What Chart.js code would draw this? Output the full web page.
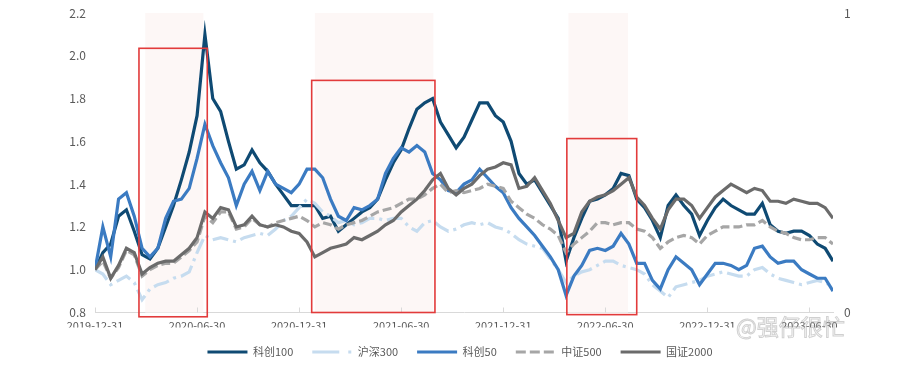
<!DOCTYPE html>
<html>
<head>
<meta charset="utf-8">
<script src="https://cdn.jsdelivr.net/npm/chart.js@4.4.1/dist/chart.umd.min.js"></script>
<style>
  html, body { margin: 0; padding: 0; background: #fff; }
  #wrap { width: 898px; height: 385px; }
</style>
</head>
<body>
<div id="wrap"><canvas id="chart" width="898" height="385"></canvas></div>
<script>
// ===== data (roughly bi-weekly samples, index 0 = 2019-12-31) =====
const tickIndex  = [0, 13, 26, 39, 52, 65, 78, 91];
const tickLabels = ["2019-12-31", "2020-06-30", "2020-12-31", "2021-06-30",
                    "2021-12-31", "2022-06-30", "2022-12-31", "2023-06-30"];

const seriesNames = ["科创100", "沪深300", "科创50", "中证500", "国证2000"];

const kc100 = [1.00,1.08,1.12,1.25,1.28,1.18,1.07,1.05,1.10,1.20,1.30,1.42,1.55,1.72,2.10,1.80,1.74,1.60,1.47,1.49,
               1.56,1.50,1.46,1.40,1.35,1.30,1.30,1.30,1.30,1.24,1.25,1.18,1.21,1.24,1.27,1.29,1.33,1.42,1.50,1.56,
               1.66,1.75,1.78,1.80,1.69,1.63,1.57,1.62,1.70,1.78,1.78,1.72,1.69,1.60,1.45,1.40,1.42,1.36,1.30,1.24,
               1.04,1.15,1.24,1.32,1.33,1.35,1.38,1.45,1.44,1.33,1.29,1.23,1.15,1.30,1.35,1.30,1.26,1.16,1.23,1.29,
               1.33,1.30,1.28,1.26,1.26,1.31,1.21,1.18,1.17,1.18,1.18,1.16,1.12,1.10,1.04];

const hs300 = [1.00,0.98,0.93,0.95,0.97,0.94,0.86,0.91,0.93,0.94,0.96,0.97,0.99,1.08,1.16,1.14,1.15,1.14,1.13,1.15,
               1.16,1.17,1.16,1.19,1.23,1.25,1.29,1.33,1.31,1.27,1.25,1.22,1.23,1.21,1.22,1.24,1.24,1.23,1.24,1.24,
               1.20,1.18,1.22,1.23,1.20,1.18,1.19,1.21,1.22,1.21,1.22,1.20,1.19,1.17,1.14,1.12,1.11,1.10,1.05,1.00,
               0.94,0.97,0.99,1.00,1.02,1.04,1.04,1.02,1.01,1.00,0.98,0.93,0.90,0.87,0.92,0.93,0.94,0.95,0.97,0.98,
               0.99,0.98,0.97,0.97,1.00,1.01,0.98,0.96,0.95,0.94,0.93,0.94,0.95,0.94,0.92];

const kc50 = [1.00,1.20,1.06,1.33,1.36,1.25,1.10,1.06,1.10,1.24,1.32,1.33,1.38,1.52,1.68,1.58,1.50,1.43,1.30,1.40,
              1.46,1.37,1.46,1.40,1.38,1.36,1.40,1.47,1.47,1.43,1.33,1.25,1.23,1.29,1.28,1.30,1.33,1.45,1.52,1.57,
              1.55,1.58,1.55,1.45,1.42,1.37,1.36,1.40,1.42,1.47,1.43,1.39,1.36,1.29,1.24,1.20,1.16,1.11,1.06,1.00,
              0.88,0.97,1.02,1.09,1.10,1.09,1.11,1.17,1.12,1.03,1.03,0.95,0.91,1.00,1.06,1.03,1.00,0.93,0.98,1.03,
              1.03,1.02,1.00,1.02,1.10,1.11,1.06,1.03,1.04,1.04,1.00,0.98,0.96,0.96,0.90];

const zz500 = [1.00,1.04,0.96,1.01,1.09,1.07,0.97,1.00,1.02,1.03,1.03,1.06,1.09,1.13,1.25,1.22,1.27,1.27,1.19,1.20,
               1.24,1.21,1.20,1.22,1.23,1.24,1.25,1.23,1.20,1.22,1.21,1.19,1.21,1.22,1.23,1.25,1.27,1.28,1.29,1.31,
               1.33,1.33,1.35,1.38,1.40,1.36,1.37,1.36,1.37,1.38,1.40,1.39,1.38,1.32,1.29,1.26,1.24,1.21,1.19,1.16,
               1.08,1.12,1.15,1.18,1.22,1.22,1.21,1.22,1.22,1.19,1.18,1.15,1.10,1.13,1.15,1.16,1.15,1.12,1.16,1.18,
               1.20,1.20,1.20,1.21,1.21,1.23,1.20,1.18,1.17,1.15,1.14,1.14,1.15,1.15,1.12];

const gz2000 = [1.00,1.06,0.96,1.02,1.10,1.08,0.98,1.01,1.03,1.04,1.04,1.07,1.10,1.15,1.27,1.24,1.29,1.28,1.20,1.21,
                1.25,1.21,1.20,1.21,1.20,1.18,1.17,1.13,1.06,1.08,1.10,1.11,1.12,1.15,1.14,1.16,1.18,1.21,1.23,1.27,
                1.30,1.33,1.37,1.42,1.45,1.38,1.35,1.38,1.40,1.44,1.47,1.48,1.50,1.49,1.38,1.39,1.43,1.37,1.31,1.23,
                1.15,1.17,1.27,1.32,1.34,1.35,1.37,1.40,1.43,1.34,1.30,1.24,1.19,1.28,1.33,1.33,1.30,1.24,1.29,1.34,
                1.37,1.40,1.38,1.36,1.38,1.37,1.32,1.32,1.31,1.33,1.32,1.31,1.31,1.29,1.24];

// highlighted periods (x in sample index), boxes: [x0, x1, yTop, yBottom]
const shadeSpans = [[6.4, 13.8], [28.0, 43.1], [60.3, 67.9]];
const boxSpans = [[5.6, 14.3, 2.035, 0.78], [27.6, 43.3, 1.885, 0.80], [60.1, 69.0, 1.613, 0.79]];

const allSeries = [kc100, hs300, kc50, zz500, gz2000];
const colors = ["#0f4a73", "#c6dcef", "#3b7bc2", "#a6a6a6", "#6b6b6b"];
const dashes = [[], [16, 5, 3, 5], [], [9, 4], []];
const legendDashes = [[], [27, 9, 3, 40], [], [10, 4], []];

const textColor = "#595959";
const fontFamily = "'Noto Sans CJK SC', 'Noto Sans', sans-serif";

// no automatic label padding, the plot box is fixed by layout.padding
const noPad = s => { s.paddingTop = 0; s.paddingBottom = 0; s.paddingLeft = 0; s.paddingRight = 0; };

// ===== plugins =====
const highlightPlugin = {
  id: "highlight",
  beforeDatasetsDraw(chart) {
    const { ctx, chartArea, scales } = chart;
    ctx.save();
    ctx.fillStyle = "#fdf7f6";
    shadeSpans.forEach(([a, b]) => {
      const x0 = scales.x.getPixelForValue(a);
      const x1 = scales.x.getPixelForValue(b);
      ctx.fillRect(x0, chartArea.top, x1 - x0, chartArea.bottom - chartArea.top);
    });
    // small inward ticks on the x axis
    ctx.strokeStyle = "#d9d9d9";
    ctx.lineWidth = 1;
    tickIndex.forEach(v => {
      const x = Math.round(scales.x.getPixelForValue(v)) + 0.5;
      ctx.beginPath();
      ctx.moveTo(x, chartArea.bottom - 5);
      ctx.lineTo(x, chartArea.bottom);
      ctx.stroke();
    });
    ctx.restore();
  },
  afterDatasetsDraw(chart) {
    const { ctx, scales } = chart;
    ctx.save();
    ctx.strokeStyle = "#e23b3b";
    ctx.lineWidth = 1.6;
    boxSpans.forEach(([a, b, top, bottom]) => {
      const x0 = scales.x.getPixelForValue(a);
      const x1 = scales.x.getPixelForValue(b);
      const y0 = scales.y.getPixelForValue(top);
      const y1 = scales.y.getPixelForValue(bottom);
      ctx.strokeRect(x0, y0, x1 - x0, y1 - y0);
    });
    ctx.restore();
  },
  afterDraw(chart) {
    const { ctx } = chart;
    ctx.save();
    ctx.font = "22px " + fontFamily;
    ctx.strokeStyle = "rgba(170,170,170,0.55)";
    ctx.lineWidth = 1;
    ctx.textBaseline = "middle";
    ctx.strokeText("@强仔很忙", 736, 327);
    ctx.restore();
  }
};

// ===== chart =====
new Chart(document.getElementById("chart"), {
  type: "line",
  data: {
    datasets: allSeries.map((arr, k) => ({
      label: seriesNames[k],
      data: arr.map((v, i) => ({ x: i, y: v })),
      borderColor: colors[k],
      backgroundColor: colors[k],
      borderDash: dashes[k],
      borderWidth: 3.2,
      pointRadius: 0,
      tension: 0,
      yAxisID: "y",
      order: 5 - k
    }))
  },
  options: {
    responsive: false,
    animation: false,
    layout: { padding: { left: 22, right: 0, top: 13, bottom: 17.5 } },
    scales: {
      x: {
        type: "linear",
        min: 0,
        max: 94,
        grid: { display: false, drawTicks: false },
        border: { display: true, color: "#d9d9d9", width: 1 },
        afterBuildTicks: s => { s.ticks = tickIndex.map(v => ({ value: v })); },
        afterFit: s => { s.height = 15; noPad(s); },
        ticks: {
          autoSkip: false,
          maxRotation: 0,
          padding: 7,
          color: textColor,
          font: { family: fontFamily, size: 11 },
          callback: (v, i) => tickLabels[i]
        }
      },
      y: {
        position: "left",
        min: 0.8,
        max: 2.2,
        grid: { display: false, drawTicks: false },
        border: { display: false },
        afterFit: s => { s.width = 73; noPad(s); },
        ticks: {
          stepSize: 0.2,
          padding: 9,
          color: textColor,
          font: { family: fontFamily, size: 12 }
        }
      },
      y2: {
        position: "right",
        min: 0,
        max: 1,
        grid: { display: false, drawTicks: false },
        border: { display: false },
        afterFit: s => { s.width = 65; noPad(s); },
        ticks: {
          stepSize: 1,
          padding: 11,
          color: textColor,
          font: { family: fontFamily, size: 12 }
        }
      }
    },
    plugins: {
      tooltip: { enabled: false },
      legend: {
        position: "bottom",
        labels: {
          usePointStyle: true,
          pointStyle: "line",
          pointStyleWidth: 40,
          padding: 19,
          color: textColor,
          font: { family: fontFamily, size: 11 },
          sort: (a, b) => a.datasetIndex - b.datasetIndex,
          generateLabels: chart => {
            const items = Chart.defaults.plugins.legend.labels.generateLabels(chart);
            items.forEach(it => {
              it.lineDash = legendDashes[it.datasetIndex];
              it.lineWidth = 3;
              it.pointStyle = "line";
            });
            return items;
          }
        }
      }
    }
  },
  plugins: [highlightPlugin]
});
</script>
</body>
</html>
